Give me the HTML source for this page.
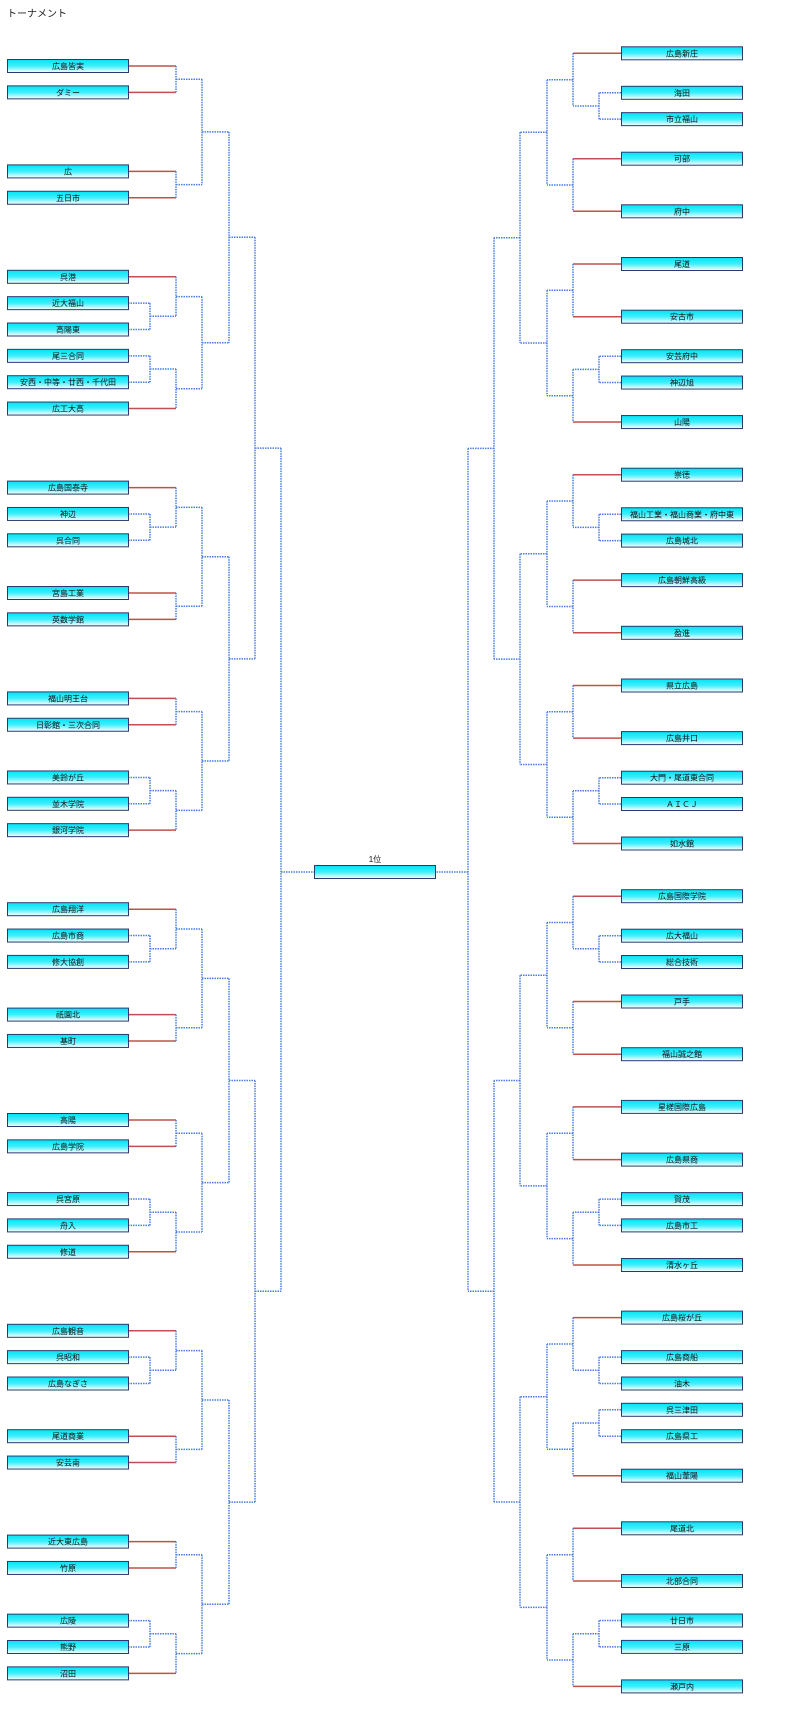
<!DOCTYPE html>
<html><head><meta charset="utf-8"><style>
html,body{margin:0;padding:0;background:#fff;}
svg{display:block;}
text{font-family:"Liberation Sans","Noto Sans CJK JP",sans-serif;}
</style></head><body>
<svg width="800" height="1713" viewBox="0 0 800 1713" xmlns="http://www.w3.org/2000/svg">
<defs>
<linearGradient id="g" x1="0" y1="0" x2="0" y2="1">
<stop offset="0" stop-color="#00e4f4"/><stop offset="0.5" stop-color="#40eefc"/><stop offset="1" stop-color="#ffffff"/>
</linearGradient>
</defs>
<text x="7" y="17" font-size="10" fill="#222">トーナメント</text>

<g fill="none" stroke="#c0504d" stroke-width="1.5">
<path d="M128 66H176M128 92.35H176M128 171.4H176M128 197.75H176M128 276.8H176M128 408.55H176M128 487.6H176M128 593H176M128 619.35H176M128 698.4H176M128 724.75H176M128 830.15H176M128 909.2H176M128 1014.6H176M128 1040.95H176M128 1120H176M128 1146.35H176M128 1251.75H176M128 1330.8H176M128 1436.2H176M128 1462.55H176M128 1541.6H176M128 1567.95H176M128 1673.35H176"/>
<g transform="translate(749,0) scale(-1,1)">
<path d="M128 53.3H176M128 158.7H176M128 211.3H176M128 264H176M128 316.7H176M128 422.05H176M128 474.7H176M128 580.1H176M128 632.8H176M128 685.5H176M128 738.1H176M128 843.5H176M128 896.2H176M128 1001.5H176M128 1054.2H176M128 1106.9H176M128 1159.6H176M128 1265H176M128 1317.6H176M128 1475.7H176M128 1528.3H176M128 1581H176M128 1686.4H176"/>
</g>
</g>

<g fill="none" stroke="#4a7ee0" stroke-width="1.5" stroke-dasharray="1.5 1">
<path d="M128 303.15H150M128 329.5H150M128 355.85H150M128 382.2H150M128 513.95H150M128 540.3H150M128 777.45H150M128 803.8H150M128 935.55H150M128 961.9H150M128 1199.05H150M128 1225.4H150M128 1357.15H150M128 1383.5H150M128 1620.65H150M128 1647H150
M150 303.15V329.5M150 355.85V382.2M150 513.95V540.3M150 777.45V803.8M150 935.55V961.9M150 1199.05V1225.4M150 1357.15V1383.5M150 1620.65V1647
M150 316.3H176M150 369H176M150 527.1H176M150 790.6H176M150 948.7H176M150 1212.2H176M150 1370.3H176M150 1633.8H176
M176 66V92.35M176 171.4V197.75M176 276.8V316.3M176 369V408.55M176 487.6V527.1M176 593V619.35M176 698.4V724.75M176 790.6V830.15M176 909.2V948.7M176 1014.6V1040.95M176 1120V1146.35M176 1212.2V1251.75M176 1330.8V1370.3M176 1436.2V1462.55M176 1541.6V1567.95M176 1633.8V1673.35
M176 79.2H202M176 184.6H202M176 296.6H202M176 388.8H202M176 507.4H202M176 606.2H202M176 711.6H202M176 810.4H202M176 929H202M176 1027.8H202M176 1133.2H202M176 1232H202M176 1350.6H202M176 1449.4H202M176 1554.8H202M176 1653.6H202
M202 79.2V184.6M202 296.6V388.8M202 507.4V606.2M202 711.6V810.4M202 929V1027.8M202 1133.2V1232M202 1350.6V1449.4M202 1554.8V1653.6
M202 131.9H229M202 342.7H229M202 556.8H229M202 761H229M202 978.4H229M202 1182.6H229M202 1400H229M202 1604.2H229
M229 131.9V342.7M229 556.8V761M229 978.4V1182.6M229 1400V1604.2
M229 237.3H255M229 658.9H255M229 1080.5H255M229 1502.1H255
M255 237.3V658.9M255 1080.5V1502.1
M255 448.1H281M255 1291.3H281
M281 448.1V1291.3M281 872H314"/>
<g transform="translate(749,0) scale(-1,1)">
<path d="M128 92.8H150M128 119.15H150M128 356.2H150M128 382.55H150M128 514.25H150M128 540.6H150M128 777.7H150M128 804H150M128 935.7H150M128 962H150M128 1199.1H150M128 1225.4H150M128 1357.1H150M128 1383.5H150M128 1409.8H150M128 1436.2H150M128 1620.5H150M128 1646.9H150
M150 92.8V119.15M150 356.2V382.55M150 514.25V540.6M150 777.7V804M150 935.7V962M150 1199.1V1225.4M150 1357.1V1383.5M150 1409.8V1436.2M150 1620.5V1646.9
M150 106H176M150 369.4H176M150 527.4H176M150 790.8H176M150 948.8H176M150 1212.2H176M150 1370.3H176M150 1423H176M150 1633.7H176
M176 53.3V106M176 158.7V211.3M176 264V316.7M176 369.4V422.05M176 474.7V527.4M176 580.1V632.8M176 685.5V738.1M176 790.8V843.5M176 896.2V948.8M176 1001.5V1054.2M176 1106.9V1159.6M176 1212.2V1265M176 1317.6V1370.3M176 1423V1475.7M176 1528.3V1581M176 1633.7V1686.4
M176 79.7H202M176 185H202M176 290.3H202M176 395.7H202M176 501H202M176 606.5H202M176 711.8H202M176 817.2H202M176 922.5H202M176 1027.8H202M176 1133.2H202M176 1238.6H202M176 1344H202M176 1449.3H202M176 1554.7H202M176 1660H202
M202 79.7V185M202 290.3V395.7M202 501V606.5M202 711.8V817.2M202 922.5V1027.8M202 1133.2V1238.6M202 1344V1449.3M202 1554.7V1660
M202 132.3H229M202 343H229M202 553.7H229M202 764.5H229M202 975.2H229M202 1185.9H229M202 1396.7H229M202 1607.4H229
M229 132.3V343M229 553.7V764.5M229 975.2V1185.9M229 1396.7V1607.4
M229 237.7H255M229 659.1H255M229 1080.5H255M229 1502H255
M255 237.7V659.1M255 1080.5V1502
M255 448.4H281M255 1291.3H281
M281 448.4V1291.3M281 872H314"/>
</g>
</g>

<g stroke="#2b3a6e" stroke-width="1" fill="url(#g)">
<rect x="7.5" y="59.5" width="121" height="13"/><rect x="7.5" y="85.85" width="121" height="13"/><rect x="7.5" y="164.9" width="121" height="13"/><rect x="7.5" y="191.25" width="121" height="13"/>
<rect x="7.5" y="270.3" width="121" height="13"/><rect x="7.5" y="296.65" width="121" height="13"/><rect x="7.5" y="323" width="121" height="13"/><rect x="7.5" y="349.35" width="121" height="13"/><rect x="7.5" y="375.7" width="121" height="13"/><rect x="7.5" y="402.05" width="121" height="13"/>
<rect x="7.5" y="481.1" width="121" height="13"/><rect x="7.5" y="507.45" width="121" height="13"/><rect x="7.5" y="533.8" width="121" height="13"/><rect x="7.5" y="586.5" width="121" height="13"/><rect x="7.5" y="612.85" width="121" height="13"/>
<rect x="7.5" y="691.9" width="121" height="13"/><rect x="7.5" y="718.25" width="121" height="13"/><rect x="7.5" y="770.95" width="121" height="13"/><rect x="7.5" y="797.3" width="121" height="13"/><rect x="7.5" y="823.65" width="121" height="13"/>
<rect x="7.5" y="902.7" width="121" height="13"/><rect x="7.5" y="929.05" width="121" height="13"/><rect x="7.5" y="955.4" width="121" height="13"/><rect x="7.5" y="1008.1" width="121" height="13"/><rect x="7.5" y="1034.45" width="121" height="13"/>
<rect x="7.5" y="1113.5" width="121" height="13"/><rect x="7.5" y="1139.85" width="121" height="13"/><rect x="7.5" y="1192.55" width="121" height="13"/><rect x="7.5" y="1218.9" width="121" height="13"/><rect x="7.5" y="1245.25" width="121" height="13"/>
<rect x="7.5" y="1324.3" width="121" height="13"/><rect x="7.5" y="1350.65" width="121" height="13"/><rect x="7.5" y="1377" width="121" height="13"/><rect x="7.5" y="1429.7" width="121" height="13"/><rect x="7.5" y="1456.05" width="121" height="13"/>
<rect x="7.5" y="1535.1" width="121" height="13"/><rect x="7.5" y="1561.45" width="121" height="13"/><rect x="7.5" y="1614.15" width="121" height="13"/><rect x="7.5" y="1640.5" width="121" height="13"/><rect x="7.5" y="1666.85" width="121" height="13"/>
<rect x="314.5" y="865.5" width="121" height="13"/>
<rect x="621.5" y="46.8" width="121" height="13"/><rect x="621.5" y="86.3" width="121" height="13"/><rect x="621.5" y="112.65" width="121" height="13"/><rect x="621.5" y="152.2" width="121" height="13"/><rect x="621.5" y="204.8" width="121" height="13"/>
<rect x="621.5" y="257.5" width="121" height="13"/><rect x="621.5" y="310.2" width="121" height="13"/><rect x="621.5" y="349.7" width="121" height="13"/><rect x="621.5" y="376.05" width="121" height="13"/><rect x="621.5" y="415.55" width="121" height="13"/>
<rect x="621.5" y="468.2" width="121" height="13"/><rect x="621.5" y="507.75" width="121" height="13"/><rect x="621.5" y="534.1" width="121" height="13"/><rect x="621.5" y="573.6" width="121" height="13"/><rect x="621.5" y="626.3" width="121" height="13"/>
<rect x="621.5" y="679" width="121" height="13"/><rect x="621.5" y="731.6" width="121" height="13"/><rect x="621.5" y="771.2" width="121" height="13"/><rect x="621.5" y="797.5" width="121" height="13"/><rect x="621.5" y="837" width="121" height="13"/>
<rect x="621.5" y="889.7" width="121" height="13"/><rect x="621.5" y="929.2" width="121" height="13"/><rect x="621.5" y="955.5" width="121" height="13"/><rect x="621.5" y="995" width="121" height="13"/><rect x="621.5" y="1047.7" width="121" height="13"/>
<rect x="621.5" y="1100.4" width="121" height="13"/><rect x="621.5" y="1153.1" width="121" height="13"/><rect x="621.5" y="1192.6" width="121" height="13"/><rect x="621.5" y="1218.9" width="121" height="13"/><rect x="621.5" y="1258.5" width="121" height="13"/>
<rect x="621.5" y="1311.1" width="121" height="13"/><rect x="621.5" y="1350.6" width="121" height="13"/><rect x="621.5" y="1377" width="121" height="13"/><rect x="621.5" y="1403.3" width="121" height="13"/><rect x="621.5" y="1429.7" width="121" height="13"/><rect x="621.5" y="1469.2" width="121" height="13"/>
<rect x="621.5" y="1521.8" width="121" height="13"/><rect x="621.5" y="1574.5" width="121" height="13"/><rect x="621.5" y="1614" width="121" height="13"/><rect x="621.5" y="1640.4" width="121" height="13"/><rect x="621.5" y="1679.9" width="121" height="13"/>
</g>

<g font-size="8" fill="#111" text-anchor="middle">
<text x="68" y="69">広島皆実</text><text x="68" y="95.35">ダミー</text><text x="68" y="174.4">広</text><text x="68" y="200.75">五日市</text>
<text x="68" y="279.8">呉港</text><text x="68" y="306.15">近大福山</text><text x="68" y="332.5">高陽東</text><text x="68" y="358.85">尾三合同</text><text x="68" y="385.2">安西・中等・廿西・千代田</text><text x="68" y="411.55">広工大高</text>
<text x="68" y="490.6">広島国泰寺</text><text x="68" y="516.95">神辺</text><text x="68" y="543.3">呉合同</text><text x="68" y="596">宮島工業</text><text x="68" y="622.35">英数学館</text>
<text x="68" y="701.4">福山明王台</text><text x="68" y="727.75">日彰館・三次合同</text><text x="68" y="780.45">美鈴が丘</text><text x="68" y="806.8">並木学院</text><text x="68" y="833.15">銀河学院</text>
<text x="68" y="912.2">広島翔洋</text><text x="68" y="938.55">広島市商</text><text x="68" y="964.9">修大協創</text><text x="68" y="1017.6">祇園北</text><text x="68" y="1043.95">基町</text>
<text x="68" y="1123">高陽</text><text x="68" y="1149.35">広島学院</text><text x="68" y="1202.05">呉宮原</text><text x="68" y="1228.4">舟入</text><text x="68" y="1254.75">修道</text>
<text x="68" y="1333.8">広島観音</text><text x="68" y="1360.15">呉昭和</text><text x="68" y="1386.5">広島なぎさ</text><text x="68" y="1439.2">尾道商業</text><text x="68" y="1465.55">安芸南</text>
<text x="68" y="1544.6">近大東広島</text><text x="68" y="1570.95">竹原</text><text x="68" y="1623.65">広陵</text><text x="68" y="1650">熊野</text><text x="68" y="1676.35">沼田</text>
<text x="375" y="862">1位</text>
<text x="682" y="56.3">広島新庄</text><text x="682" y="95.8">海田</text><text x="682" y="122.15">市立福山</text><text x="682" y="161.7">可部</text><text x="682" y="214.3">府中</text>
<text x="682" y="267">尾道</text><text x="682" y="319.7">安古市</text><text x="682" y="359.2">安芸府中</text><text x="682" y="385.55">神辺旭</text><text x="682" y="425.05">山陽</text>
<text x="682" y="477.7">崇徳</text><text x="682" y="517.25">福山工業・福山商業・府中東</text><text x="682" y="543.6">広島城北</text><text x="682" y="583.1">広島朝鮮高級</text><text x="682" y="635.8">盈進</text>
<text x="682" y="688.5">県立広島</text><text x="682" y="741.1">広島井口</text><text x="682" y="780.7">大門・尾道東合同</text><text x="682" y="807">ＡＩＣＪ</text><text x="682" y="846.5">如水館</text>
<text x="682" y="899.2">広島国際学院</text><text x="682" y="938.7">広大福山</text><text x="682" y="965">総合技術</text><text x="682" y="1004.5">戸手</text><text x="682" y="1057.2">福山誠之館</text>
<text x="682" y="1109.9">星槎国際広島</text><text x="682" y="1162.6">広島県商</text><text x="682" y="1202.1">賀茂</text><text x="682" y="1228.4">広島市工</text><text x="682" y="1268">清水ヶ丘</text>
<text x="682" y="1320.6">広島桜が丘</text><text x="682" y="1360.1">広島商船</text><text x="682" y="1386.5">油木</text><text x="682" y="1412.8">呉三津田</text><text x="682" y="1439.2">広島県工</text><text x="682" y="1478.7">福山葦陽</text>
<text x="682" y="1531.3">尾道北</text><text x="682" y="1584">北部合同</text><text x="682" y="1623.5">廿日市</text><text x="682" y="1649.9">三原</text><text x="682" y="1689.4">瀬戸内</text>
</g>
</svg>
</body></html>
